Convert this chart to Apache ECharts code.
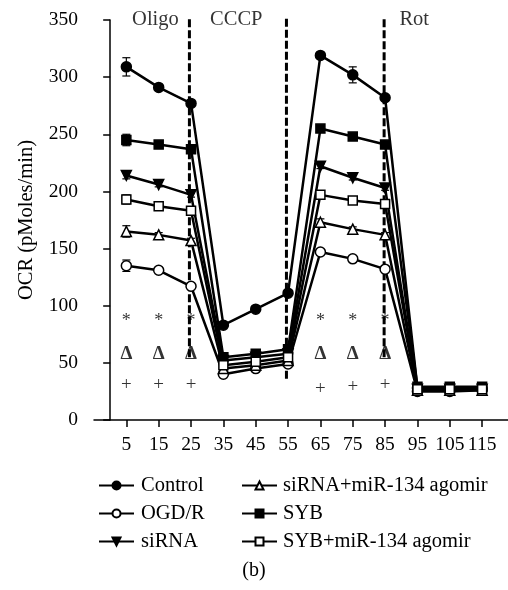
<!DOCTYPE html>
<html>
<head>
<meta charset="utf-8">
<script src="https://cdn.jsdelivr.net/npm/echarts@6/dist/echarts.min.js"></script>
<style>html,body{margin:0;padding:0;background:#fff}#c{width:508px;height:590px}</style>
</head>
<body>
<div id="c"></div>
<script>
// ---- data ----
var times = [5, 15, 25, 35, 45, 55, 65, 75, 85, 95, 105, 115];
var tickLabels = ['5','15','25','35','45','55','65','75','85','95','105','115'];
var control     = [309, 291, 277, 83, 97, 111, 319, 302, 282, 28, 28, 28];
var ogdr        = [135, 131, 117, 40, 45, 49, 147, 141, 132, 25, 25, 26];
var sirna       = [214, 206, 197, 52, 55, 58, 222, 212, 203, 27, 27, 27];
var sirnaAgomir = [165, 162, 157, 45, 48, 52, 173, 167, 162, 26, 26, 26];
var syb         = [245, 241, 237, 55, 58, 62, 255, 248, 241, 29, 29, 29];
var sybAgomir   = [193, 187, 183, 48, 51, 55, 197, 192, 189, 27, 27, 27];
var controlErr     = [8, 2, 2, 2, 2, 2, 2, 7, 2, 1, 1, 1];
var ogdrErr        = [5, 2, 2, 1, 1, 1, 2, 2, 2, 1, 1, 1];
var sirnaErr       = [3, 2, 2, 1, 1, 1, 2, 2, 2, 1, 1, 1];
var sirnaAgomirErr = [5, 2, 2, 1, 1, 1, 3, 2, 2, 1, 1, 1];
var sybErr         = [5, 2, 2, 1, 1, 1, 2, 2, 2, 1, 1, 1];
var sybAgomirErr   = [4, 2, 2, 1, 1, 1, 2, 2, 2, 1, 1, 1];
var seriesNames = ['Control', 'OGD/R', 'siRNA', 'siRNA+miR-134 agomir', 'SYB', 'SYB+miR-134 agomir'];
var phaseNames = ['Oligo', 'CCCP', 'Rot'];
var phaseX = [14, 39, 94];
var injectionX = [24.5, 54.5, 84.7];
var injectionBottom = [55, 36, 55];
var starX = [5, 15, 25, 65, 75, 85];
var starY = [86, 86, 86, 86, 86, 86];
var deltaY = [58, 58, 58, 58, 58, 58];
var plusY = [30.6, 30.6, 30.6, 27, 29, 30.6];

var FONT = '"Liberation Serif", "DejaVu Serif", serif';
var chart = echarts.init(document.getElementById('c'), null, {renderer: 'canvas'});

function pairs(vals) { return times.map(function (t, i) { return [t, vals[i]]; }); }
function errData(vals, errs) { return times.map(function (t, i) { return [t, vals[i] - errs[i], vals[i] + errs[i]]; }); }

var styles = [
  {symbol: 'circle', size: 10, fill: '#000'},
  {symbol: 'circle', size: 10, fill: '#fff'},
  {symbol: 'triangle', size: 10, fill: '#000', rotate: 180},
  {symbol: 'triangle', size: 10, fill: '#fff'},
  {symbol: 'rect', size: 9, fill: '#000'},
  {symbol: 'rect', size: 9, fill: '#fff'}
];
var allVals = [control, ogdr, sirna, sirnaAgomir, syb, sybAgomir];
var allErrs = [controlErr, ogdrErr, sirnaErr, sirnaAgomirErr, sybErr, sybAgomirErr];

var series = [];
// injection dashed lines (custom series through the axes)
series.push({
  type: 'custom', silent: true, z: 2, animation: false,
  data: injectionX.map(function (x, i) { return [x, injectionBottom[i], 352]; }),
  renderItem: function (params, api) {
    var lo = api.coord([api.value(0), api.value(1)]);
    var hi = api.coord([api.value(0), api.value(2)]);
    return {type: 'line', shape: {x1: lo[0], y1: lo[1], x2: hi[0], y2: hi[1]},
      style: {stroke: '#000', lineWidth: 3, lineDash: [8, 3]}};
  }
});
allVals.forEach(function (vals, k) {
  series.push({
    type: 'custom',
    silent: true,
    data: errData(vals, allErrs[k]),
    z: 1,
    renderItem: function (params, api) {
      var lo = api.coord([api.value(0), api.value(1)]);
      var hi = api.coord([api.value(0), api.value(2)]);
      var w = 4;
      return {
        type: 'group',
        children: [
          {type: 'line', shape: {x1: lo[0], y1: lo[1], x2: hi[0], y2: hi[1]}, style: {stroke: '#000', lineWidth: 1.2}},
          {type: 'line', shape: {x1: lo[0] - w, y1: lo[1], x2: lo[0] + w, y2: lo[1]}, style: {stroke: '#000', lineWidth: 1.2}},
          {type: 'line', shape: {x1: hi[0] - w, y1: hi[1], x2: hi[0] + w, y2: hi[1]}, style: {stroke: '#000', lineWidth: 1.2}}
        ]
      };
    }
  });
});
allVals.forEach(function (vals, k) {
  var s = styles[k];
  series.push({
    name: seriesNames[k],
    type: 'line',
    data: pairs(vals),
    symbol: s.symbol,
    symbolSize: s.size,
    symbolRotate: s.rotate || 0,
    showAllSymbol: true,
    z: 3,
    lineStyle: {color: '#000', width: 2.5},
    itemStyle: {color: s.fill, borderColor: '#000', borderWidth: 1.5},
    emphasis: {disabled: true},
    animation: false
  });
});
function textSeries(xsArr, ysArr, labels, size, weight) {
  return {
    type: 'scatter', silent: true, animation: false, symbolSize: 0, z: 5,
    data: xsArr.map(function (x, i) { return {value: [x, ysArr[i]], label: {formatter: labels[i]}}; }),
    label: {show: true, position: 'inside', color: '#000', fontFamily: FONT, fontSize: size, fontWeight: weight || 'normal'}
  };
}
series.push(textSeries(phaseX, [350, 350, 350], phaseNames, 20.5));
series.push(textSeries(starX, starY, starX.map(function () { return '*'; }), 18));
series.push(textSeries(starX, deltaY, starX.map(function () { return 'Δ'; }), 19, 'bold'));
series.push(textSeries(starX, plusY, starX.map(function () { return '+'; }), 19));

var option = {
  backgroundColor: '#fff',
  animation: false,
  grid: {left: 94, right: 0, top: 20, bottom: 170, containLabel: false},
  xAxis: {
    type: 'value', min: -5, max: 123, interval: 10,
    axisLine: {lineStyle: {color: '#000', width: 1.5}},
    axisTick: {length: 7, lineStyle: {color: '#000', width: 1.5}, customValues: times},
    axisLabel: {color: '#000', fontFamily: FONT, fontSize: 19.5, margin: 15, customValues: times,
      formatter: function (v) { var i = times.indexOf(v); return i >= 0 ? tickLabels[i] : ''; }},
    splitLine: {show: false}
  },
  yAxis: {
    type: 'value', min: 0, max: 350, interval: 50,
    name: 'OCR (pMoles/min)', nameLocation: 'middle', nameGap: 57, nameRotate: 90,
    nameTextStyle: {color: '#000', fontFamily: FONT, fontSize: 20.5},
    axisLine: {show: true, lineStyle: {color: '#000', width: 1.5}},
    axisTick: {show: true, length: 7, lineStyle: {color: '#000', width: 1.5}},
    axisLabel: {color: '#000', fontFamily: FONT, fontSize: 19.5, margin: 16},
    splitLine: {show: false}
  },
  legend: [
    {data: seriesNames.slice(0, 3), orient: 'vertical', left: 93, top: 470, itemWidth: 35, itemHeight: 10, itemGap: 7,
      textStyle: {color: '#000', fontFamily: FONT, fontSize: 20.5, padding: [0, 0, 0, 2]}, selectedMode: false},
    {data: seriesNames.slice(3), orient: 'vertical', left: 236, top: 470, itemWidth: 35, itemHeight: 10, itemGap: 7,
      textStyle: {color: '#000', fontFamily: FONT, fontSize: 20.5, padding: [0, 0, 0, 1]}, selectedMode: false}
  ],
  graphic: [
    {type: 'text', left: 'center', top: 561, style: {text: '(b)', fill: '#000', font: '20px ' + FONT}}
  ],
  series: series
};
chart.setOption(option);
</script>
</body>
</html>
